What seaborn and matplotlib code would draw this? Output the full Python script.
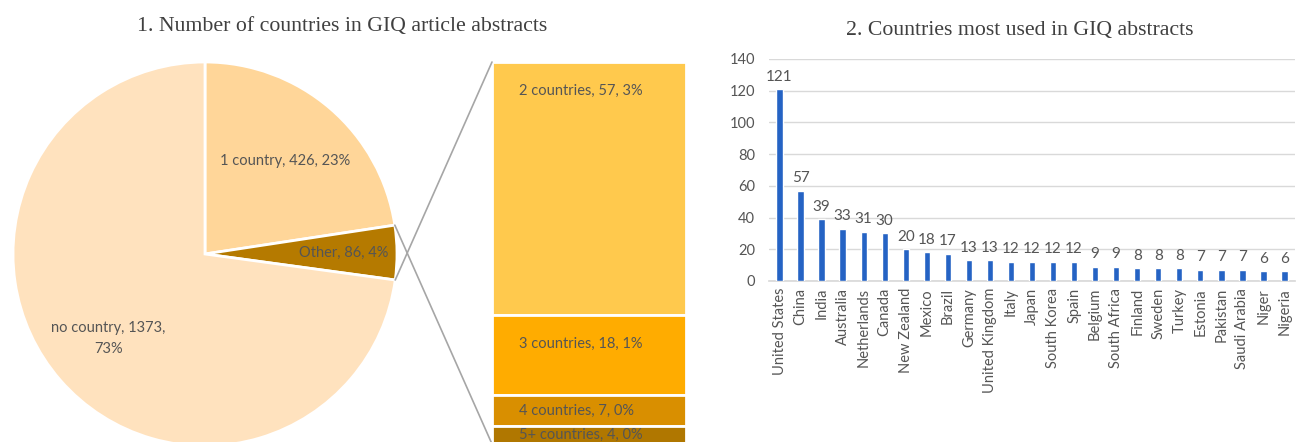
import numpy as np
import pandas as pd
import matplotlib
matplotlib.use('Agg')
import matplotlib.pyplot as plt
from matplotlib.patches import ConnectionPatch
import seaborn as sns

# pie data (clockwise from the top)
pie_labels = ['1 country', 'Other', 'no country']
pie_values = [426, 86, 1373]
pie_pcts = ['23%', '4%', '73%']
pie_colors = ['#FFD699', '#B57A00', '#FFE2BE']

# breakdown of "Other" (top to bottom)
other_labels = ['2 countries', '3 countries', '4 countries', '5+ countries']
other_values = [57, 18, 7, 4]
other_pcts = ['3%', '1%', '0%', '0%']
other_colors = ['#FFC94D', '#FFAC00', '#D98F00', '#B07700']

# countries bar chart
countries = ['United States', 'China', 'India', 'Australia', 'Netherlands', 'Canada',
             'New Zealand', 'Mexico', 'Brazil', 'Germany', 'United Kingdom', 'Italy',
             'Japan', 'South Korea', 'Spain', 'Belgium', 'South Africa', 'Finland',
             'Sweden', 'Turkey', 'Estonia', 'Pakistan', 'Saudi Arabia', 'Niger', 'Nigeria']
counts = [121, 57, 39, 33, 31, 30, 20, 18, 17, 13, 13, 12, 12, 12, 12, 9, 9, 8, 8, 8, 7, 7, 7, 6, 6]

sns.set_theme(style='white')
plt.rcParams['font.family'] = ['Lato', 'DejaVu Sans']
text_grey = '#555555'

W, H = 1298, 442
fig = plt.figure(figsize=(W / 100, H / 100), dpi=100)

def px_axes(x0, y0, x1, y1):
    # pixel box (top-left origin) -> figure axes
    return fig.add_axes([x0 / W, 1 - y1 / H, (x1 - x0) / W, (y1 - y0) / H])

# ---- pie ----
ax_pie = px_axes(13, 62, 397, 446)
wedges, _ = ax_pie.pie(pie_values, colors=pie_colors, startangle=90, counterclock=False,
                       radius=1, wedgeprops=dict(edgecolor='white', linewidth=2))
ax_pie.set_xlim(-1, 1)
ax_pie.set_ylim(-1, 1)
ax_pie.set_aspect('equal')
ax_pie.axis('off')

label_dist = [0.64, 0.72, 0.67]
label_text = ['1 country, 426, 23%', 'Other, 86, 4%', 'no country, 1373,\n73%']
for w, d, t in zip(wedges, label_dist, label_text):
    ang = np.deg2rad((w.theta1 + w.theta2) / 2)
    ax_pie.text(d * np.cos(ang), d * np.sin(ang), t, ha='center', va='center',
                fontsize=10.5, color=text_grey, linespacing=1.6)

# ---- stacked bar for "Other" ----
ax_bar = px_axes(492, 62, 686, 444)
bottoms = np.cumsum([0] + other_values[::-1])[:-1][::-1]
for lab, val, pct, col, b in zip(other_labels, other_values, other_pcts, other_colors, bottoms):
    ax_bar.bar(0, val, bottom=b, width=1, color=col, edgecolor='white', linewidth=2)
    # label near the top of the segment
    ypos = b + val - 6.5 if val > 10 else b + val / 2
    ax_bar.text(-0.5 + 0.14, ypos, f'{lab}, {val}, {pct}', ha='left', va='center',
                fontsize=10.5, color=text_grey)
ax_bar.set_xlim(-0.5, 0.5)
ax_bar.set_ylim(0, sum(other_values))
ax_bar.axis('off')

# connector lines from "Other" wedge to bar
ow = wedges[1]
for theta, ybar in [(ow.theta1, sum(other_values)), (ow.theta2, 0)]:
    a = np.deg2rad(theta)
    con = ConnectionPatch(xyA=(np.cos(a), np.sin(a)), coordsA=ax_pie.transData,
                          xyB=(-0.5, ybar), coordsB=ax_bar.transData,
                          color='#A6A6A6', linewidth=1.2)
    fig.add_artist(con)

fig.text(342 / W, 1 - 27 / H, '1. Number of countries in GIQ article abstracts',
         ha='center', va='center', fontsize=15.7, color='#404040', family='Liberation Serif')

# ---- countries bar chart ----
ax2 = px_axes(769, 59, 1295, 281)
df = pd.DataFrame({'country': countries, 'count': counts})
sns.barplot(data=df, x='country', y='count', color='#2563C4', width=0.3,
            saturation=1, ax=ax2, zorder=3)
for i, v in enumerate(counts):
    ax2.text(i, v + 3.5, str(v), ha='center', va='bottom', fontsize=11, color=text_grey)
ax2.set_ylim(0, 140)
ax2.set_xlim(-0.5, len(countries) - 0.5)
ax2.set_yticks(range(0, 141, 20))
ax2.yaxis.grid(True, color='#D9D9D9', linewidth=1, zorder=0)
ax2.set_axisbelow(True)
for s in ['top', 'right', 'left']:
    ax2.spines[s].set_visible(False)
ax2.spines['bottom'].set_color('#D9D9D9')
ax2.set_xlabel('')
ax2.set_ylabel('')
ax2.tick_params(axis='x', rotation=90, labelsize=10.5, colors=text_grey, length=0, pad=5)
ax2.tick_params(axis='y', labelsize=10.5, colors=text_grey, length=0, pad=10)

fig.text(1020 / W, 1 - 30 / H, '2. Countries most used in GIQ abstracts',
         ha='center', va='center', fontsize=15.7, color='#404040', family='Liberation Serif')

fig.savefig('out.png', dpi=100)
